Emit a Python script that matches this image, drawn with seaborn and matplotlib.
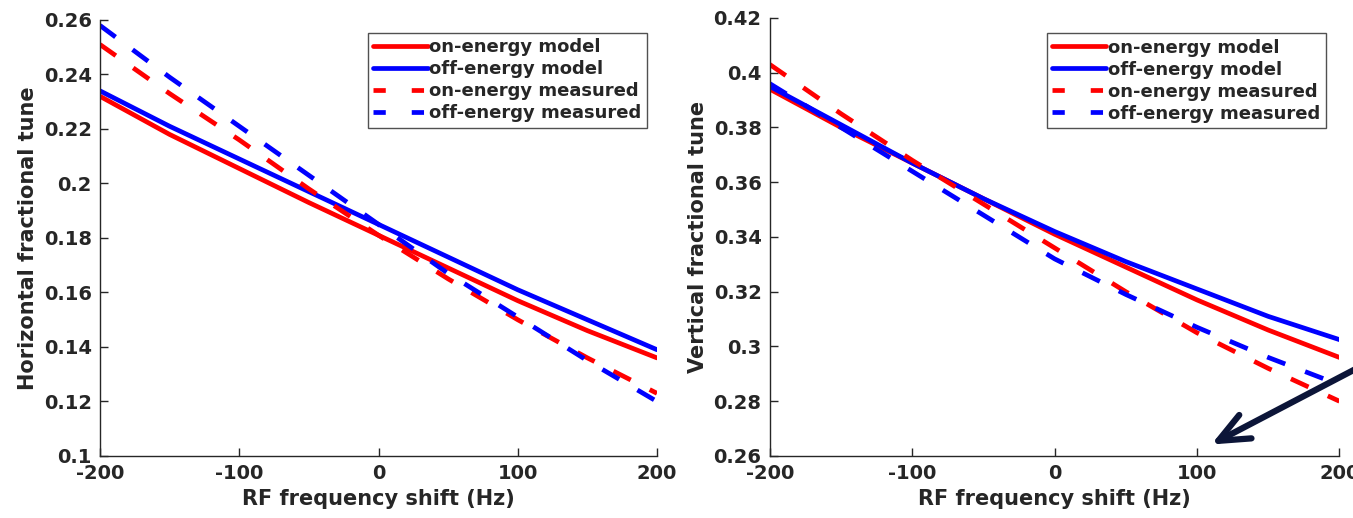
import numpy as np
import pandas as pd
import matplotlib
matplotlib.use("Agg")
import matplotlib.pyplot as plt
import seaborn as sns

# ---- data ----
rf_shift = [-200, -150, -100, -50, 0, 50, 100, 150, 200]

h_on_model = [0.232, 0.218, 0.2055, 0.193, 0.181, 0.169, 0.157, 0.146, 0.136]
h_off_model = [0.234, 0.221, 0.209, 0.197, 0.185, 0.173, 0.161, 0.150, 0.139]
h_on_meas = [0.251, 0.233, 0.216, 0.198, 0.181, 0.165, 0.150, 0.136, 0.123]
h_off_meas = [0.258, 0.239, 0.221, 0.203, 0.185, 0.167, 0.151, 0.135, 0.120]

v_on_model = [0.394, 0.380, 0.367, 0.354, 0.341, 0.329, 0.317, 0.306, 0.296]
v_off_model = [0.395, 0.381, 0.367, 0.354, 0.342, 0.331, 0.321, 0.311, 0.3025]
v_on_meas = [0.403, 0.385, 0.368, 0.352, 0.336, 0.320, 0.305, 0.292, 0.280]
v_off_meas = [0.396, 0.380, 0.364, 0.348, 0.332, 0.319, 0.307, 0.296, 0.286]

series_names = ["on-energy model", "off-energy model", "on-energy measured", "off-energy measured"]
h_yticks = [0.1, 0.12, 0.14, 0.16, 0.18, 0.2, 0.22, 0.24, 0.26]
h_yticklabels = ["0.1", "0.12", "0.14", "0.16", "0.18", "0.2", "0.22", "0.24", "0.26"]
v_yticks = [0.26, 0.28, 0.3, 0.32, 0.34, 0.36, 0.38, 0.4, 0.42]
v_yticklabels = ["0.26", "0.28", "0.3", "0.32", "0.34", "0.36", "0.38", "0.4", "0.42"]
xticks = [-200, -100, 0, 100, 200]
xticklabels = ["-200", "-100", "0", "100", "200"]

sns.set_theme(style="white")
plt.rcParams["font.family"] = ["DejaVu Sans"]
plt.rcParams["font.weight"] = "bold"

TXT = "#262626"
colors = ["#ff0000", "#0000ff", "#ff0000", "#0000ff"]
LW = 3.4
DASH = (4.1, 4.5)
LEG_DASH = (2.6, 5.5)

fig = plt.figure(figsize=(13.53, 5.18), dpi=100)
ax1 = fig.add_axes([0.0739, 0.1197, 0.4117, 0.8417])
ax2 = fig.add_axes([0.569, 0.1197, 0.421, 0.8456])


def draw(ax, ys, yticks, yticklabels, ylabel, ylim, leg_anchor):
    for name, y, c in zip(series_names, ys, colors):
        df = pd.DataFrame({"x": rf_shift, "y": y})
        sns.lineplot(data=df, x="x", y="y", ax=ax, color=c, lw=LW, label=name,
                     legend=False)
        if "measured" in name:
            ax.lines[-1].set_dashes(DASH)
    ax.set_xlim(-200, 200)
    ax.set_ylim(*ylim)
    ax.set_xticks(xticks)
    ax.set_xticklabels(xticklabels)
    ax.set_yticks(yticks)
    ax.set_yticklabels(yticklabels)
    ax.tick_params(direction="in", length=6, width=1, colors=TXT, labelsize=14,
                   pad=6, left=True, bottom=True)
    for lab in ax.get_xticklabels() + ax.get_yticklabels():
        lab.set_fontweight("bold")
    ax.set_xlabel("RF frequency shift (Hz)", fontsize=15, fontweight="bold", color=TXT, labelpad=4)
    ax.set_ylabel(ylabel, fontsize=15, fontweight="bold", color=TXT, labelpad=4)
    for s in ["top", "right"]:
        ax.spines[s].set_visible(False)
    for s in ["left", "bottom"]:
        ax.spines[s].set_color(TXT)
        ax.spines[s].set_linewidth(1)
    leg = ax.legend(loc="upper right", bbox_to_anchor=leg_anchor, frameon=True,
                    fancybox=False, edgecolor=TXT, handlelength=3.0, handletextpad=0.1,
                    borderpad=0.3, labelspacing=0.22, borderaxespad=0,
                    prop={"weight": "bold", "size": 13})
    leg.get_frame().set_linewidth(1)
    for t in leg.get_texts():
        t.set_color(TXT)
    for h in leg.get_lines()[2:]:
        h.set_dashes(LEG_DASH)


draw(ax1, [h_on_model, h_off_model, h_on_meas, h_off_meas], h_yticks, h_yticklabels,
     "Horizontal fractional tune", (0.1, 0.26), (0.982, 0.97))
draw(ax2, [v_on_model, v_off_model, v_on_meas, v_off_meas], v_yticks, v_yticklabels,
     "Vertical fractional tune", (0.26, 0.42), (0.976, 0.965))

ax2.annotate("", xy=(110, 0.2642), xytext=(225, 0.2955), xycoords="data", textcoords="data",
             annotation_clip=False,
             arrowprops=dict(arrowstyle="->,head_length=2.2,head_width=0.95", color="#0c1538",
                             lw=4.5, shrinkA=0, shrinkB=0, mutation_scale=10,
                             capstyle="round", joinstyle="round"))

fig.savefig("out.png", dpi=100)
